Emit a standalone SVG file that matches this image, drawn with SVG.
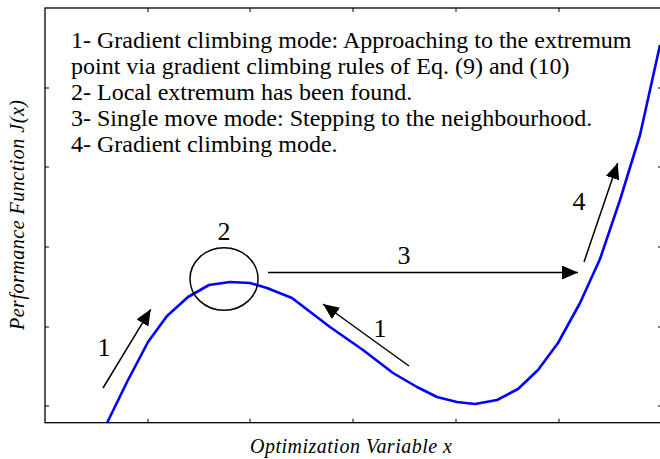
<svg xmlns="http://www.w3.org/2000/svg" width="660" height="459" viewBox="0 0 660 459">
<style>
.ax{fill:none;stroke:#000;stroke-width:1.3}
.tk{stroke:#000;stroke-width:1}
.curve{fill:none;stroke:#0000ff;stroke-width:2.6;stroke-linejoin:round}
.arr{stroke:#000;stroke-width:1.5;fill:none;marker-end:url(#ah)}
.t{font-size:24px;fill:#000}
.lab{font-size:26px;fill:#000;text-anchor:middle}
.axl{font-size:20px;font-style:italic;fill:#000;text-anchor:middle}
</style>
<defs>
<marker id="ah" viewBox="0 0 16 14" refX="16" refY="7" markerWidth="16" markerHeight="14" markerUnits="userSpaceOnUse" orient="auto">
<path d="M0,0 L16,7 L0,14 Z" fill="#000"/>
</marker>
</defs>
<rect width="660" height="459" fill="#fff"/>
<g font-family="Liberation Serif, serif">
<g id="axes">
<rect class="ax" x="45" y="8" width="617" height="414.7"/>
<path class="tk" d="M148,8v4M250,8v4M353,8v4M456,8v4M559,8v4M148,422.7v-4M250,422.7v-4M353,422.7v-4M456,422.7v-4M559,422.7v-4M45,88h4M45,167h4M45,247h4M45,327h4M45,406h4M662,88h-4M662,167h-4M662,247h-4M662,327h-4M662,406h-4"/>
<text class="axl" x="351" y="453" textLength="202" lengthAdjust="spacing">Optimization Variable x</text>
<text class="axl" transform="translate(24,215) rotate(-90)" textLength="230" lengthAdjust="spacing">Performance Function J(x)</text>
</g>
<g id="curve">
<polyline class="curve" points="107,423 127,382 148,342 167,316 188,297 209,285 230,282 250,283 267,288 292,298 330,327 363,350 393,373 417,387 437,397 457,402 475,404 497,400 518,389 538,370 558,343 580,303 600,259 620,200 640,135 660,45"/>
</g>
<g id="legend">
<text class="t" x="71" y="48">1- Gradient climbing mode: Approaching to the extremum</text>
<text class="t" x="71" y="74">point via gradient climbing rules of Eq. (9) and (10)</text>
<text class="t" x="71" y="100">2- Local extremum has been found.</text>
<text class="t" x="71" y="126">3- Single move mode: Stepping to the neighbourhood.</text>
<text class="t" x="71" y="152">4- Gradient climbing mode.</text>
</g>
<g id="node-extremum">
<ellipse cx="224" cy="279" rx="34" ry="31.3" fill="none" stroke="#000" stroke-width="1.5"/>
<text class="lab" x="224" y="240">2</text>
</g>
<g id="connectors">
<line class="arr" x1="103" y1="388" x2="150.7" y2="309.3"/>
<line class="arr" x1="268" y1="272.5" x2="578" y2="272.5"/>
<line class="arr" x1="409" y1="366" x2="323" y2="304"/>
<line class="arr" x1="584" y1="262" x2="617.7" y2="163"/>
</g>
<g id="labels">
<text class="lab" x="104" y="356">1</text>
<text class="lab" x="404" y="264">3</text>
<text class="lab" x="380" y="337">1</text>
<text class="lab" x="579" y="210">4</text>
</g>
</g>
</svg>
